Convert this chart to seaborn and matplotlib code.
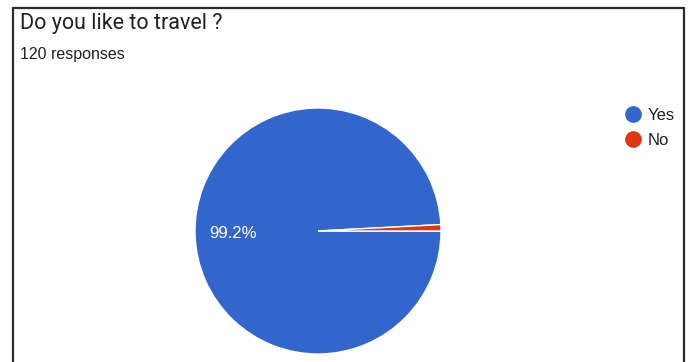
import matplotlib
matplotlib.use("Agg")
import matplotlib.pyplot as plt
import seaborn as sns
from matplotlib.lines import Line2D

labels = ["Yes", "No"]
counts = [119, 1]
colors = ["#3366cc", "#dc3912"]
title = "Do you like to travel ?"
subtitle = "120 responses"

sns.set_theme(style="white")
plt.rcParams["font.family"] = ["Roboto", "DejaVu Sans"]
arial = ["Liberation Sans", "DejaVu Sans"]

W, H = 688, 362
fig = plt.figure(figsize=(W / 100, H / 100), dpi=100)
fig.patch.set_facecolor("white")

def fx(px): return px / W
def fy(py): return 1 - py / H
for xs, ys in [([13, 13], [8, 400]), ([13, 684], [8, 8]), ([684, 684], [8, 400])]:
    fig.add_artist(Line2D([fx(x) for x in xs], [fy(y) for y in ys], color="#2b2b2b", lw=1.6,
                          transform=fig.transFigure))

cx, cy, r = 318, 231, 123
ax = fig.add_axes([fx(cx - r), fy(cy + r), 2 * r / W, 2 * r / H])
total = sum(counts)
wedges, texts, autotexts = ax.pie(
    counts, colors=colors, startangle=360 * counts[1] / total, counterclock=True,
    autopct=lambda p: f"{p:.1f}%" if p > 5 else "", pctdistance=0.69,
    wedgeprops=dict(edgecolor="white", linewidth=1), radius=1,
    textprops=dict(color="white", fontsize=12, family=arial))
ax.set_xlim(-1, 1)
ax.set_ylim(-1, 1)
ax.set_aspect("equal")
ax.axis("off")

fig.text(fx(20), fy(24), title, fontsize=15.5, color="#202124", va="center", ha="left")
fig.text(fx(20), fy(54), subtitle, fontsize=11.5, color="#202124", va="center", ha="left",
         family=arial)

handles = [Line2D([], [], marker="o", linestyle="", markersize=11, markerfacecolor=c,
                  markeredgecolor=c) for c in colors]
fig.legend(handles, labels, loc="upper left", bbox_to_anchor=(fx(625), fy(108)),
           frameon=False, prop=dict(family=arial, size=12), handletextpad=0.35,
           labelspacing=0.6, handlelength=1.0, borderaxespad=0, borderpad=0,
           labelcolor="#202124")

fig.savefig("out.png", dpi=100, facecolor="white")
